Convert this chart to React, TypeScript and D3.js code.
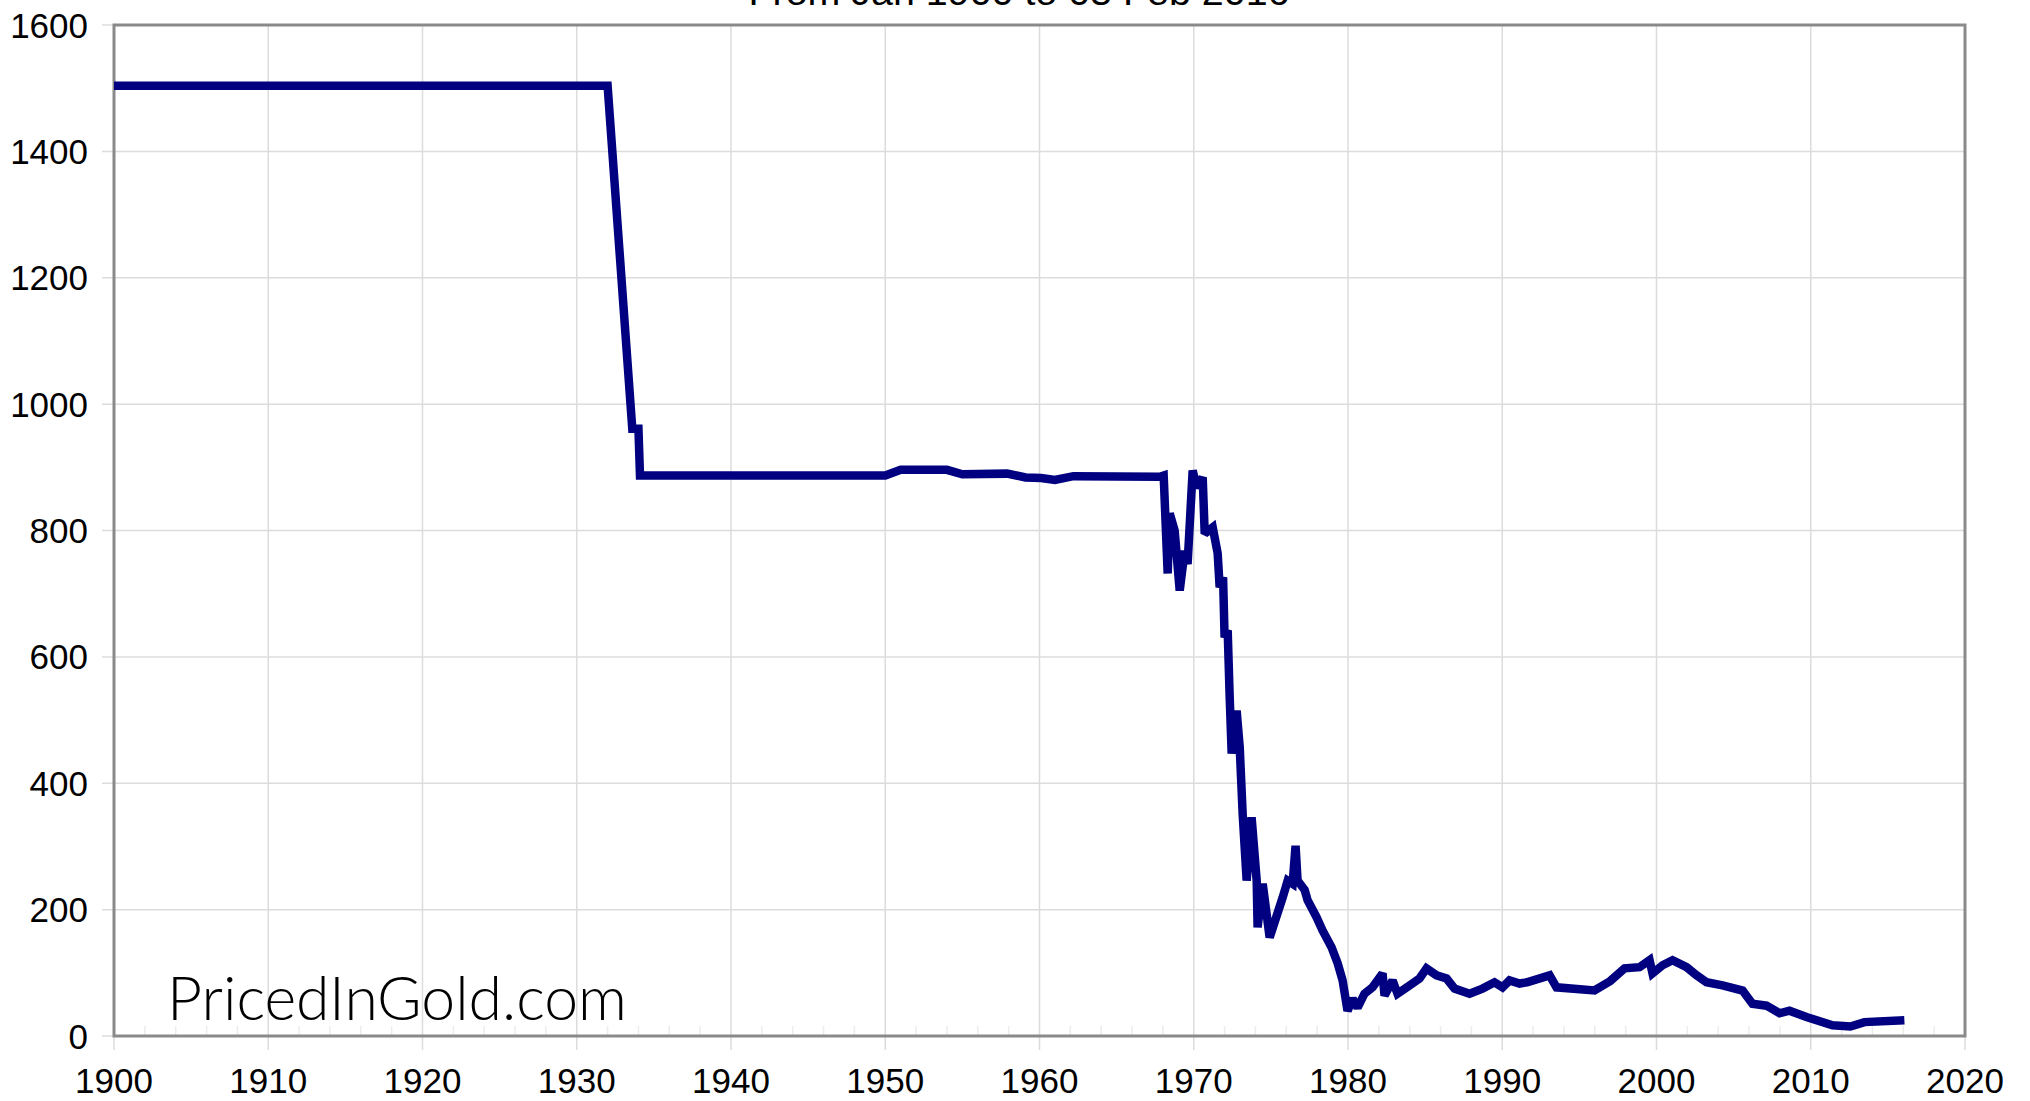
import React, { useEffect, useRef } from 'react';
import * as d3 from 'd3';

// value, by (fractional) year
const years = [
  1900, 1932.0, 1933.6, 1934.0, 1934.1, 1950.0, 1951.0, 1954.0, 1955.0, 1957.9,
  1959.1, 1960.1, 1961.0, 1962.2, 1967.8, 1968.05, 1968.31, 1968.44, 1968.76, 1969.09,
  1969.41, 1969.6, 1969.93, 1970.19, 1970.58, 1970.71, 1971.23, 1971.55, 1971.68, 1971.9,
  1972.0, 1972.2, 1972.33, 1972.46, 1972.78, 1972.98, 1973.17, 1973.43, 1973.75, 1974.08,
  1974.14, 1974.47, 1974.92, 1975.76, 1976.09, 1976.41, 1976.6, 1976.73, 1977.19, 1977.38,
  1977.96, 1978.35, 1978.94, 1979.33, 1979.65, 1979.97, 1980.3, 1980.62, 1981.07, 1981.59,
  1982.24, 1982.37, 1982.89, 1983.21, 1983.99, 1984.64, 1985.09, 1985.74, 1986.39, 1986.91,
  1987.88, 1988.72, 1989.5, 1990.02, 1990.47, 1991.12, 1991.6, 1993.07, 1993.52, 1995.98,
  1997.0, 1997.93, 1998.9, 1999.55, 1999.74, 2000.39, 2001.04, 2001.95, 2002.6, 2003.24,
  2004.28, 2005.58, 2006.22, 2007.13, 2007.98, 2008.62, 2009.72, 2011.41, 2012.57, 2013.48,
  2016.07,
];

const values = [
  1504, 1504, 961, 961, 887, 887, 896, 896, 889, 890,
  884, 883, 880, 886, 885, 887, 732, 827, 800, 705,
  768, 747, 895, 868, 884, 795, 805, 764, 710, 726,
  631, 642, 536, 447, 515, 457, 352, 246, 346, 246,
  172, 241, 156, 219, 246, 241, 301, 246, 231, 215,
  188, 167, 140, 115, 88, 40, 59, 45, 67, 77,
  99, 64, 88, 67, 80, 91, 107, 96, 91, 75,
  67, 75, 85, 77, 88, 83, 85, 96, 77, 72,
  87, 107, 109, 120, 99, 112, 120, 109, 96, 85,
  80, 72, 51, 48, 36, 40, 30, 17, 15, 22,
  25,
];

const xTicks = [1900, 1910, 1920, 1930, 1940, 1950, 1960, 1970, 1980, 1990, 2000, 2010, 2020];
const yTicks = [0, 200, 400, 600, 800, 1000, 1200, 1400, 1600];

const title = 'From Jan 1900 to 05 Feb 2016';
const watermark = 'PricedInGold.com';

const App: React.FC = () => {
  const svgRef = useRef<SVGSVGElement>(null);

  useEffect(() => {
    if (!svgRef.current) return;

    const W = 2030;
    const H = 1101;
    const margin = { top: 25, right: 65, bottom: 65, left: 114 };
    const width = W - margin.left - margin.right;
    const height = H - margin.top - margin.bottom;

    const svg = d3.select(svgRef.current);
    svg.selectAll('*').remove();
    svg.attr('width', W).attr('height', H);

    svg.append('rect').attr('width', W).attr('height', H).attr('fill', '#fff');

    const g = svg.append('g').attr('transform', `translate(${margin.left},${margin.top})`);

    const x = d3.scaleLinear().domain([1900, 2020]).range([0, width]);
    const y = d3.scaleLinear().domain([0, 1600]).range([height, 0]);

    // grid
    g.selectAll('.vgrid')
      .data(xTicks)
      .enter()
      .append('line')
      .attr('x1', d => x(d))
      .attr('x2', d => x(d))
      .attr('y1', 0)
      .attr('y2', height + 14)
      .attr('stroke', '#dcdcdc')
      .attr('stroke-width', 1.5);

    g.selectAll('.hgrid')
      .data(yTicks)
      .enter()
      .append('line')
      .attr('x1', -12)
      .attr('x2', width)
      .attr('y1', d => y(d))
      .attr('y2', d => y(d))
      .attr('stroke', '#dcdcdc')
      .attr('stroke-width', 1.5);

    // faint minor ticks along the bottom
    g.selectAll('.minor')
      .data(d3.range(1902, 2020, 2).filter(d => d % 10 !== 0))
      .enter()
      .append('line')
      .attr('x1', d => x(d))
      .attr('x2', d => x(d))
      .attr('y1', height - 10)
      .attr('y2', height)
      .attr('stroke', '#ececec')
      .attr('stroke-width', 1.5);

    // frame
    g.append('rect')
      .attr('width', width)
      .attr('height', height)
      .attr('fill', 'none')
      .attr('stroke', '#8a8a8a')
      .attr('stroke-width', 3);

    // tick labels
    g.selectAll('.ylab')
      .data(yTicks)
      .enter()
      .append('text')
      .attr('x', -26)
      .attr('y', d => y(d))
      .attr('dy', '0.36em')
      .attr('text-anchor', 'end')
      .attr('font-family', 'Liberation Sans, Arial, sans-serif')
      .attr('font-size', 35)
      .attr('fill', '#000')
      .text(d => d);

    g.selectAll('.xlab')
      .data(xTicks)
      .enter()
      .append('text')
      .attr('x', d => x(d))
      .attr('y', height + 57)
      .attr('text-anchor', 'middle')
      .attr('font-family', 'Liberation Sans, Arial, sans-serif')
      .attr('font-size', 35)
      .attr('fill', '#000')
      .text(d => d);

    // title, mostly cut off at the top edge as in the source
    svg.append('text')
      .attr('x', 1019)
      .attr('y', 5)
      .attr('text-anchor', 'middle')
      .attr('font-family', 'Liberation Sans, Arial, sans-serif')
      .attr('font-size', 36)
      .attr('textLength', 541)
      .attr('lengthAdjust', 'spacingAndGlyphs')
      .attr('fill', '#000')
      .text(title);

    // line
    const data = years.map((yr, i) => ({ yr, v: values[i] }));
    const line = d3
      .line<{ yr: number; v: number }>()
      .x(d => x(d.yr))
      .y(d => y(d.v));

    g.append('path')
      .datum(data)
      .attr('fill', 'none')
      .attr('stroke', '#000080')
      .attr('stroke-width', 8.5)
      .attr('stroke-linejoin', 'miter')
      .attr('stroke-miterlimit', 2)
      .attr('d', line);

    // watermark
    svg.append('text')
      .attr('x', 167)
      .attr('y', 1020)
      .attr('font-family', 'Lato, sans-serif')
      .attr('font-weight', 300)
      .attr('font-size', 62)
      .attr('textLength', 460)
      .attr('lengthAdjust', 'spacingAndGlyphs')
      .attr('fill', '#000')
      .text(watermark);
  }, []);

  return <svg ref={svgRef} style={{ position: 'absolute', left: 0, top: 0, display: 'block' }} />;
};

export default App;
